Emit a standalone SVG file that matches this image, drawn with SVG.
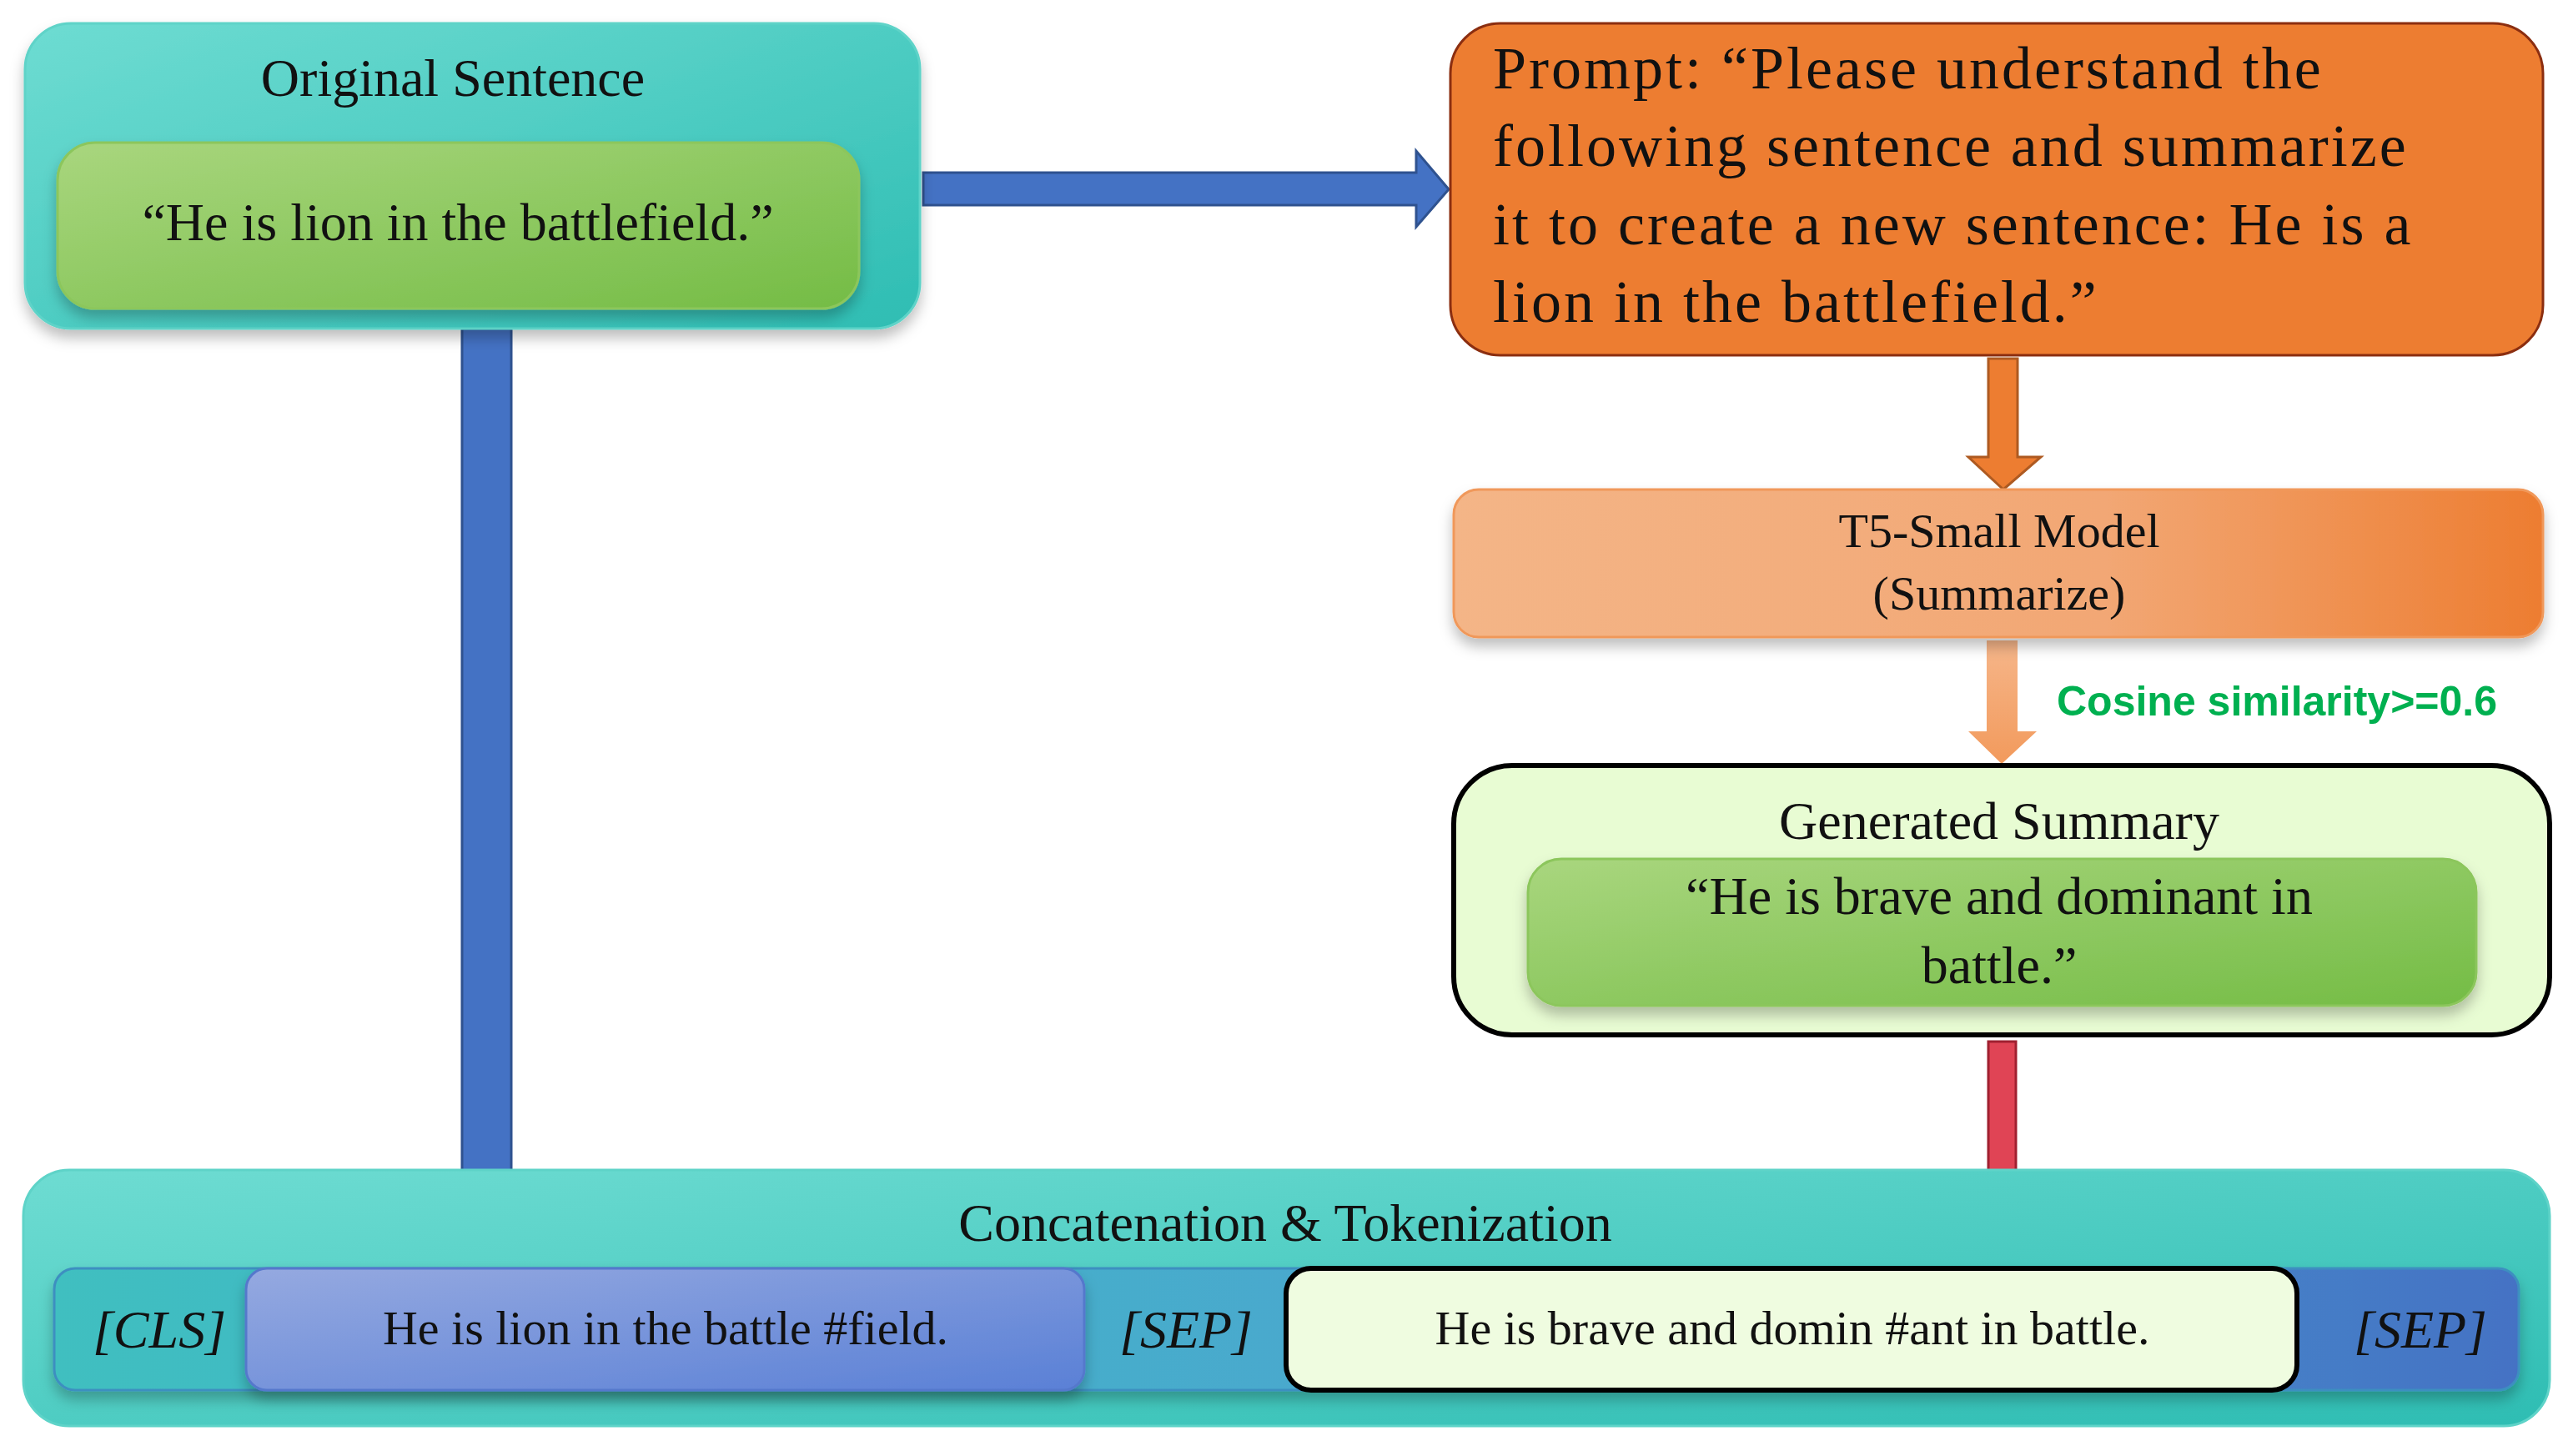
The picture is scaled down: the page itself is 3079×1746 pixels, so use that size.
<svg xmlns="http://www.w3.org/2000/svg" width="3079" height="1746" viewBox="0 0 3079 1746">
<defs>
<linearGradient id="teal" x1="0" y1="0" x2="1" y2="1"><stop offset="0" stop-color="#6EDCD2"/><stop offset="1" stop-color="#2EBDB3"/></linearGradient>
<linearGradient id="green" x1="0" y1="0" x2="1" y2="1"><stop offset="0" stop-color="#A9D67E"/><stop offset="1" stop-color="#74BC45"/></linearGradient>
<linearGradient id="lorange" x1="0" y1="0" x2="1" y2="0"><stop offset="0" stop-color="#F4B587"/><stop offset="0.6" stop-color="#F2A774"/><stop offset="1" stop-color="#ED7D31"/></linearGradient>
<linearGradient id="bar" x1="0" y1="0" x2="1" y2="0"><stop offset="0" stop-color="#3FBFC0"/><stop offset="0.6" stop-color="#4AA5D0"/><stop offset="1" stop-color="#4472C4"/></linearGradient>
<linearGradient id="tok" x1="0" y1="0" x2="1" y2="1"><stop offset="0" stop-color="#95A9E0"/><stop offset="1" stop-color="#5A80D6"/></linearGradient>
<linearGradient id="vorange" x1="0" y1="0" x2="0" y2="1"><stop offset="0" stop-color="#F6B68A"/><stop offset="1" stop-color="#F29A5C"/></linearGradient>
<filter id="sh" x="-10%" y="-10%" width="120%" height="130%"><feDropShadow dx="0" dy="10" stdDeviation="8" flood-color="#000" flood-opacity="0.25"/></filter>
</defs>
<style>
.s{font-family:"Liberation Serif","DejaVu Serif",serif;fill:#111;text-anchor:middle}
.t{font-size:64px}.p{font-size:72px;text-anchor:start;letter-spacing:3px}
.i{font-style:italic}
</style>
<rect width="3079" height="1746" fill="#fff"/>
<g id="connectors">
<polygon points="1107,207 1698,207 1698,181 1737,227 1698,272 1698,246 1107,246" fill="#4472C4" stroke="#2F528F" stroke-width="3"/>
<polygon points="554,394 613,394 613,1462 644,1462 584,1521 520,1462 554,1462" fill="#4472C4" stroke="#2F528F" stroke-width="3"/>
<polygon points="2384,430 2419,430 2419,548 2447,548 2402,587 2360,548 2384,548" fill="#ED7D31" stroke="#AE5A21" stroke-width="3"/>
<polygon points="2382,768 2419,768 2419,877 2442,877 2400,916 2360,877 2382,877" fill="url(#vorange)"/>
<polygon points="2384,1249 2417,1249 2417,1478 2440,1478 2400,1513 2360,1478 2384,1478" fill="#E04455" stroke="#A02030" stroke-width="3"/>
</g>
<g id="original"><rect x="30" y="28" width="1073" height="366" rx="55" fill="url(#teal)" stroke="#5ED3C8" stroke-width="3" filter="url(#sh)"/>
<text class="s t" x="543" y="115">Original Sentence</text>
<rect x="69" y="171" width="961" height="199" rx="45" fill="url(#green)" stroke="#8CC65C" stroke-width="3" filter="url(#sh)"/>
<text class="s t" x="549" y="288">“He is lion in the battlefield.”</text></g>
<g id="prompt"><rect x="1739" y="28" width="1310" height="398" rx="60" fill="#ED7D31" stroke="#8B2E10" stroke-width="3"/>
<text class="s p" x="1790" y="106">Prompt: “Please understand the</text>
<text class="s p" x="1790" y="199">following sentence and summarize</text>
<text class="s p" x="1790" y="293">it to create a new sentence: He is a</text>
<text class="s p" x="1790" y="386">lion in the battlefield.”</text></g>
<g id="t5"><rect x="1743" y="587" width="1306" height="177" rx="30" fill="url(#lorange)" stroke="#F0985A" stroke-width="3" filter="url(#sh)"/>
<text class="s" font-size="58" x="2397" y="656">T5-Small Model</text>
<text class="s" font-size="58" x="2397" y="731">(Summarize)</text></g>
<text x="2466" y="858" font-family="Liberation Sans,Arial,sans-serif" font-weight="bold" font-size="50" fill="#00B050">Cosine similarity&gt;=0.6</text>
<g id="summary"><rect x="1743" y="918" width="1314" height="323" rx="70" fill="#E8FCD3" stroke="#000" stroke-width="6"/>
<text class="s t" x="2397" y="1006">Generated Summary</text>
<rect x="1832" y="1030" width="1137" height="176" rx="40" fill="url(#green)" stroke="#8CC65C" stroke-width="3" filter="url(#sh)"/>
<text class="s t" x="2397" y="1096">“He is brave and dominant in</text>
<text class="s t" x="2397" y="1179">battle.”</text></g>
<g id="concat"><rect x="28" y="1403" width="3029" height="307" rx="55" fill="url(#teal)" stroke="#5ED3C8" stroke-width="3"/>
<text class="s t" x="1541" y="1488">Concatenation &amp; Tokenization</text>
<rect x="65" y="1521" width="2955" height="146" rx="25" fill="url(#bar)" stroke="#3E8FC0" stroke-width="3" filter="url(#sh)"/>
<text class="s t i" x="191" y="1616">[CLS]</text>
<rect x="295" y="1521" width="1005" height="146" rx="25" fill="url(#tok)" stroke="#5578CC" stroke-width="3" filter="url(#sh)"/>
<text class="s" font-size="58" x="798" y="1612">He is lion in the battle #field.</text>
<text class="s t i" x="1422" y="1616">[SEP]</text>
<rect x="1542" y="1521" width="1212" height="146" rx="30" fill="#EFFCE0" stroke="#000" stroke-width="6"/>
<text class="s" font-size="58" x="2149" y="1612">He is brave and domin #ant in battle.</text>
<text class="s t i" x="2902" y="1616">[SEP]</text></g>
</svg>
